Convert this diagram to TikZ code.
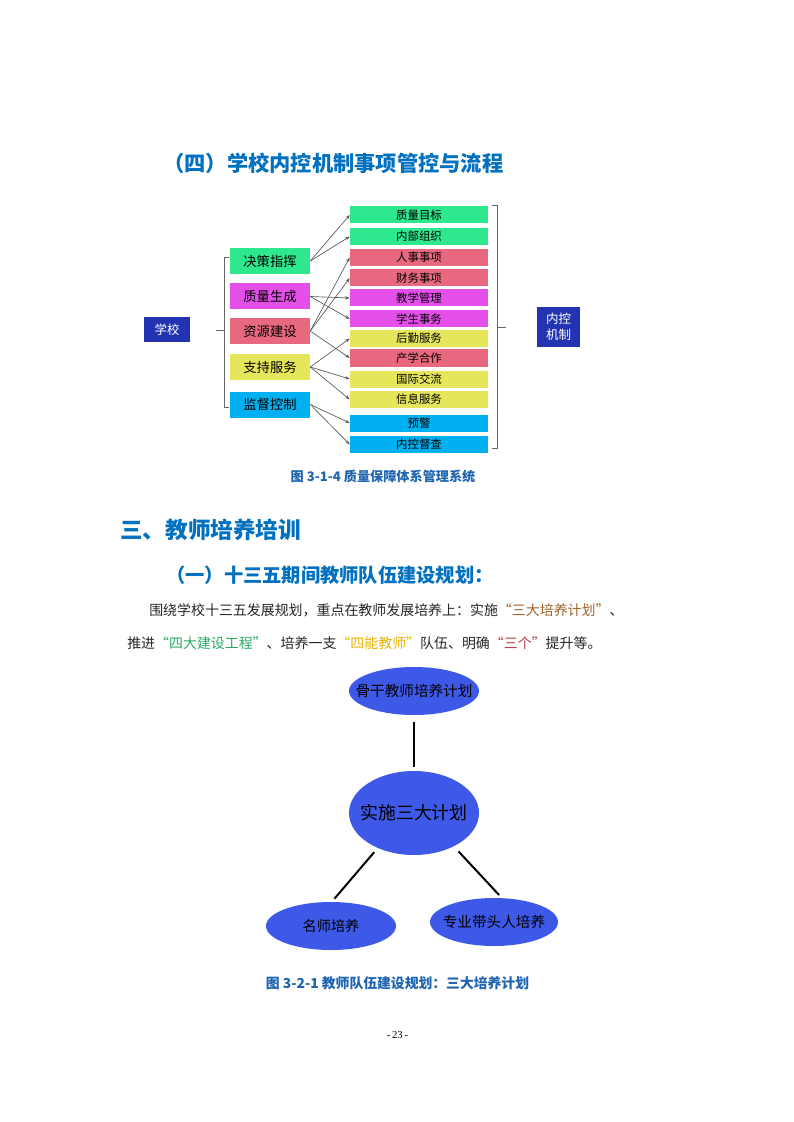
\documentclass[tikz,border=0pt]{standalone}
\usepackage{fontspec}
\setmainfont{Liberation Serif}
\newfontfamily\cjk{Noto Sans CJK SC}
\usetikzlibrary{arrows.meta,shapes.geometric}

\definecolor{headblue}{RGB}{0,112,192}
\definecolor{capblue}{RGB}{30,100,175}
\definecolor{dkblue}{RGB}{35,52,178}
\definecolor{bgreen}{RGB}{45,232,140}
\definecolor{bmagenta}{RGB}{227,79,232}
\definecolor{bred}{RGB}{232,105,127}
\definecolor{byellow}{RGB}{230,230,90}
\definecolor{bcyan}{RGB}{0,176,240}
\definecolor{bubblue}{RGB}{62,88,232}
\definecolor{qbrown}{RGB}{160,100,45}
\definecolor{qgreen}{RGB}{40,170,100}
\definecolor{qgold}{RGB}{235,180,0}
\definecolor{qred}{RGB}{190,60,60}

\tikzset{
	catbox/.style={fill=#1, minimum width=60bp, minimum height=19.5bp, inner sep=0pt, font=\cjk\fontsize{10}{10}\selectfont},
	itembox/.style={fill=#1, minimum width=103.5bp, minimum height=12.75bp, inner sep=0pt, font=\cjk\fontsize{8.6}{8.6}\selectfont},
	bubble/.style={ellipse, fill=bubblue, inner sep=0pt},
	arr/.style={-{Stealth[length=3.5bp,width=2.5bp]}, draw=black!65, line width=0.5bp},
	brk/.style={draw=black!60, line width=0.6bp},
	link/.style={line width=1.5bp, shorten <=4bp, shorten >=3bp},
	para/.style={anchor=west, inner sep=0pt, text=black!85, font=\cjk\fontsize{10.5}{10.5}\selectfont},
}

\begin{document}
\begin{tikzpicture}[x=0.75bp,y=-0.75bp]
				\fill[white] (0,0) rectangle (793,1122);
				\useasboundingbox (0,0) rectangle (793,1122);
				
				%heading
				\node[anchor=west, inner sep=0pt, text=headblue, font=\cjk\bfseries\fontsize{16}{16}\selectfont] (h1) at (163,163) {（四）学校内控机制事项管控与流程};
				
				%school box and left bracket
				\node[fill=dkblue, text=white, minimum width=34.5bp, minimum height=18.75bp, inner sep=0pt, font=\cjk\fontsize{9.4}{9.4}\selectfont] (school) at (167,329.5) {学校};
				\draw[brk] (229,257) -- (224,257) -- (224,407) -- (229,407);
				\draw[brk] (216,330) -- (224,330);
				
				\foreach \y/\t/\c [count=\i] in {261/决策指挥/bgreen, 296.5/质量生成/bmagenta, 331/资源建设/bred, 367/支持服务/byellow, 404.5/监督控制/bcyan}{
					\node[catbox=\c] (cat\i) at (270,\y) {\t};
				}
				
				\foreach \y/\t/\c [count=\i] in {215/质量目标/bgreen, 236.5/内部组织/bgreen, 257.5/人事事项/bred, 278/财务事项/bred, 298/教学管理/bmagenta, 319/学生事务/bmagenta, 338.5/后勤服务/byellow, 358/产学合作/bred, 379/国际交流/byellow, 399.5/信息服务/byellow, 423/预警/bcyan, 444.5/内控督查/bcyan}{
					\node[itembox=\c] (it\i) at (419,\y) {\t};
				}
				
				\foreach \a/\b in {1/1, 1/2, 2/5, 2/6, 3/3, 3/4, 3/8, 4/7, 4/9, 4/10, 5/11, 5/12}{
					\draw[arr] (cat\a.east) -- (it\b.west);
				}
				
				%right bracket and result box
				\draw[brk] (492,205) -- (497,205) -- (497,448) -- (492,448);
				\draw[brk] (497,327) -- (506,327);
				\node[fill=dkblue, text=white, minimum width=32.25bp, minimum height=30bp, inner sep=0pt, align=center, font=\cjk\fontsize{9.4}{12}\selectfont] (ctrl) at (558.5,327) {内控\\机制};
				
				\node[text=capblue, font=\cjk\bfseries\fontsize{9.9}{9.9}\selectfont] (cap1) at (383,476) {图 3-1-4 质量保障体系管理系统};
				
				%section three
				\node[anchor=west, inner sep=0pt, text=headblue, font=\cjk\bfseries\fontsize{17}{17}\selectfont] (h2) at (120,530) {三、教师培养培训};
				\node[anchor=west, inner sep=0pt, text=headblue, font=\cjk\bfseries\fontsize{14.5}{14.5}\selectfont] (h3) at (166,575) {（一）十三五期间教师队伍建设规划：};
				
				\node[para] (p1) at (149,610) {围绕学校十三五发展规划，重点在教师发展培养上：实施{\color{qbrown}“三大培养计划”}、};
				\node[para] (p2) at (127,643) {推进{\color{qgreen}“四大建设工程”}、培养一支{\color{qgold}“四能教师”}队伍、明确{\color{qred}“三个”}提升等。};
				
				%three plans
				\node[bubble, minimum width=97.5bp, minimum height=36bp, label={[font=\cjk\fontsize{11}{11}\selectfont]center:骨干教师培养计划}] (gg) at (414,691) {};
				\node[bubble, minimum width=97.5bp, minimum height=63bp, label={[font=\cjk\fontsize{13.5}{13.5}\selectfont]center:实施三大计划}] (sj) at (414,813) {};
				\node[bubble, minimum width=97.5bp, minimum height=36bp, label={[font=\cjk\fontsize{10.7}{10.7}\selectfont]center:名师培养}] (ms) at (331,926) {};
				\node[bubble, minimum width=96bp, minimum height=36bp, label={[font=\cjk\fontsize{11}{11}\selectfont]center:专业带头人培养}] (zy) at (494,922) {};
				
				\draw[link, shorten <=5bp] (gg.south) -- (sj.north);
				\draw[link] (sj.224) -- (ms.88);
				\draw[link, shorten <=5bp] (sj.320) -- (zy.72);
				
				\node[text=capblue, font=\cjk\bfseries\fontsize{10.4}{10.4}\selectfont] (cap2) at (397.5,983) {图 3-2-1 教师队伍建设规划：三大培养计划};
				
				\node[font=\fontsize{8}{8}\selectfont] (pg) at (397.5,1035) {-\,23\,-};
\end{tikzpicture}
\end{document}
